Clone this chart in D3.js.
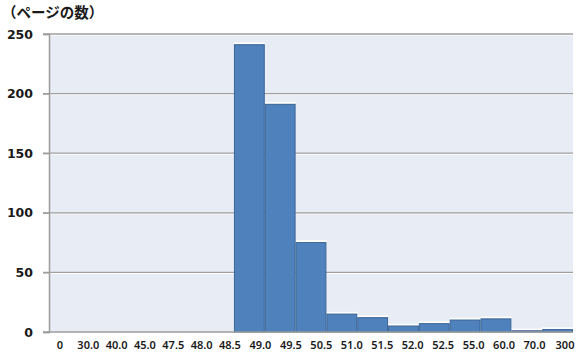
<!DOCTYPE html>
<html><head><meta charset="utf-8">
<script src="https://cdn.jsdelivr.net/npm/d3@7"></script>
<style>body{margin:0;background:#fff}svg{display:block}</style>
</head><body>
<svg id="c" width="580" height="357"></svg>
<script>
const binLabels = ["0","30.0","40.0","45.0","47.5","48.0","48.5","49.0","49.5","50.5","51.0","51.5","52.0","52.5","55.0","60.0","70.0","300"];
const binCounts = [0,0,0,0,0,0,241,191,75,15,12,5,7,10,11,1,2];
const yTicks = [0,50,100,150,200,250];
const yTitle = "（ページの数）";

const svg = d3.select("#c");
const L = 49, R = 573, T = 34, B = 332;

const x = d3.scaleBand().domain(d3.range(binCounts.length)).range([L, R]).padding(0);
const y = d3.scaleLinear().domain([0, 250]).range([B, T]);
const labelX = d3.scaleLinear().domain([0, 6, binLabels.length - 1])
  .range([x(0) + 11, x(6) - 4, R - 8]);

svg.append("rect").attr("x", L).attr("y", T).attr("width", R - L).attr("height", B - T).attr("fill", "#E8ECF4");

// gridlines
const g = svg.append("g");
yTicks.filter(d => d > 0).forEach(d => {
  g.append("line").attr("x1", L - 6).attr("x2", R).attr("y1", y(d) + 1).attr("y2", y(d) + 1)
    .attr("stroke", "#ffffff").attr("stroke-width", 1);
  g.append("line").attr("x1", L - 6).attr("x2", R).attr("y1", y(d)).attr("y2", y(d))
    .attr("stroke", "#A0A0A0").attr("stroke-width", 1.3);
});

// bars
const bars = binCounts.map((v, i) => ({i, v})).filter(d => d.v > 0);
svg.append("g").selectAll("line.hl").data(bars).join("line")
  .attr("x1", d => x(d.i)).attr("x2", d => x(d.i) + x.bandwidth())
  .attr("y1", d => y(d.v) - 1.5).attr("y2", d => y(d.v) - 1.5)
  .attr("stroke", "#ffffff").attr("stroke-width", 1.5);
svg.append("g").selectAll("rect").data(bars).join("rect")
  .attr("x", d => x(d.i) + 0.5).attr("y", d => y(d.v))
  .attr("width", x.bandwidth() - 1).attr("height", d => B - y(d.v))
  .attr("fill", "#4F81BD").attr("stroke", "#3A6597").attr("stroke-width", 1);

// axes
const yAxis = d3.axisLeft(y).tickValues(yTicks).tickSize(6).tickPadding(10);
const ya = svg.append("g").attr("transform", `translate(${L},0)`).call(yAxis);
ya.select(".domain").attr("stroke", "#9C9C9C").attr("stroke-width", 1.5);
ya.selectAll(".tick line").attr("stroke", "#9C9C9C").attr("stroke-width", 1.3);
ya.selectAll(".tick text").attr("fill", "#1a1a1a").attr("font-family", "DejaVu Sans")
  .attr("font-weight", "bold").attr("font-size", 12.5);

svg.append("line").attr("x1", L - 6).attr("x2", R).attr("y1", B).attr("y2", B)
  .attr("stroke", "#9C9C9C").attr("stroke-width", 1.5);

svg.append("g").selectAll("text").data(binLabels).join("text")
  .attr("x", (d, i) => labelX(i)).attr("y", B + 17)
  .attr("text-anchor", "middle").attr("fill", "#1a1a1a")
  .attr("font-family", "Noto Sans").attr("font-weight", "600").attr("font-size", 11)
  .text(d => d);

svg.append("text").attr("x", 2).attr("y", 18).attr("fill", "#1a1a1a")
  .attr("font-family", "Noto Sans CJK JP").attr("font-weight", "bold").attr("font-size", 14.5)
  .text(yTitle);
</script>
</body></html>
